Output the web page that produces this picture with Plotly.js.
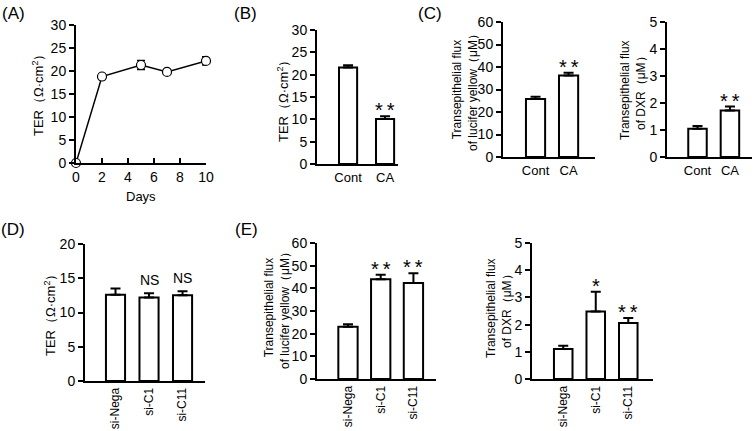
<!DOCTYPE html>
<html><head><meta charset="utf-8">
<script src="https://cdn.plot.ly/plotly-3.0.1.min.js"></script>
<style>html,body{margin:0;padding:0;background:#fff}#plot{width:756px;height:431px}</style>
</head><body><div id="plot"></div>
<script>
// ---- Data ----
const daysA = [0, 2, 5, 7, 10];
const terA = [0, 18.8, 21.3, 19.8, 22.2];
const terAErr = [0, 0.3, 1.0, 0.3, 0.9];

const catsBC = ['Cont', 'CA'];
const terB = [21.6, 10.1];
const terBErr = [0.5, 0.6];
const lyC = [25.8, 36.2];
const lyCErr = [1.0, 1.3];
const dxrC = [1.05, 1.72];
const dxrCErr = [0.1, 0.15];

const catsDE = ['si-Nega', 'si-C1', 'si-C11'];
const terD = [12.6, 12.2, 12.5];
const terDErr = [0.9, 0.6, 0.6];
const lyE = [23.0, 44.0, 42.3];
const lyEErr = [1.2, 2.0, 4.3];
const dxrE = [1.1, 2.48, 2.06];
const dxrEErr = [0.12, 0.73, 0.18];

const sigB = ['', '**'];
const sigC1 = ['', '**'];
const sigC2 = ['', '**'];
const sigD = ['', 'NS', 'NS'];
const sigE1 = ['', '**', '**'];
const sigE2 = ['', '*', '**'];

// ---- Layout helpers ----
const W = 756, H = 431;
const FONT = 'Liberation Sans, Arial, sans-serif';
function xd(a, b) { return [a / W, b / W]; }
function yd(t, b) { return [1 - b / H, 1 - t / H]; }

function yax(dom, max, dt, anchor) {
  return {domain: dom, range: [0, max], dtick: dt, anchor: anchor,
    showline: true, linecolor: '#000', linewidth: 2, ticks: 'outside', ticklen: 5, tickwidth: 2,
    tickcolor: '#000', showgrid: false, zeroline: false, tickfont: {size: 14, family: FONT, color: '#000'},
    fixedrange: true};
}
function xcat(dom, rng, anchor, angle, fs) {
  return {domain: dom, range: rng, anchor: anchor, type: 'category',
    showline: true, linecolor: '#000', linewidth: 2, ticks: '', showgrid: false, zeroline: false,
    tickangle: angle, tickfont: {size: fs, family: FONT, color: '#000'}, fixedrange: true};
}
function barTrace(cats, vals, errs, xa, ya, w) {
  return {type: 'bar', x: cats, y: vals, xaxis: xa, yaxis: ya, width: w,
    marker: {color: '#fff', line: {color: '#000', width: 2}},
    error_y: {type: 'data', symmetric: false, array: errs, arrayminus: errs.map(() => 0),
      color: '#000', thickness: 2, width: 5},
    showlegend: false, hoverinfo: 'skip'};
}

const traces = [
  {type: 'scatter', mode: 'lines+markers', x: daysA, y: terA, xaxis: 'x', yaxis: 'y',
    line: {color: '#000', width: 1.5},
    marker: {symbol: 'circle', size: 9, color: '#fff', line: {color: '#000', width: 1.2}},
    error_y: {type: 'data', array: terAErr, color: '#000', thickness: 1.5, width: 4},
    cliponaxis: false, showlegend: false, hoverinfo: 'skip'},
  barTrace(catsBC, terB, terBErr, 'x2', 'y2', 0.49),
  barTrace(catsBC, lyC, lyCErr, 'x3', 'y3', 0.58),
  barTrace(catsBC, dxrC, dxrCErr, 'x4', 'y4', 0.57),
  barTrace(catsDE, terD, terDErr, 'x5', 'y5', 0.57),
  barTrace(catsDE, lyE, lyEErr, 'x6', 'y6', 0.59),
  barTrace(catsDE, dxrE, dxrEErr, 'x7', 'y7', 0.57)
];

const annotations = [];
function sig(labels, vals, errs, xr, yr) {
  labels.forEach((t, i) => {
    if (!t) return;
    const star = t.indexOf('*') >= 0;
    const txt = star ? t.split('').join('\u2009') : t;
    annotations.push({xref: xr, yref: yr, x: i, y: vals[i] + errs[i], text: txt, showarrow: false,
      yanchor: 'bottom', yshift: star ? -7 : 3,
      font: {size: star ? 20 : 14, family: FONT, color: '#000'}});
  });
}
sig(sigB, terB, terBErr, 'x2', 'y2');
sig(sigC1, lyC, lyCErr, 'x3', 'y3');
sig(sigC2, dxrC, dxrCErr, 'x4', 'y4');
sig(sigD, terD, terDErr, 'x5', 'y5');
sig(sigE1, lyE, lyEErr, 'x6', 'y6');
sig(sigE2, dxrE, dxrEErr, 'x7', 'y7');

function paperText(text, x, y, size, angle) {
  annotations.push({xref: 'paper', yref: 'paper', x: x / W, y: 1 - y / H, text: text, showarrow: false,
    xanchor: 'center', yanchor: 'middle', textangle: angle || 0,
    font: {size: size, family: FONT, color: '#000'}});
}
// panel labels
paperText('(A)', 13, 13, 17);
paperText('(B)', 245, 14, 17);
paperText('(C)', 430, 13, 17);
paperText('(D)', 13, 229, 17);
paperText('(E)', 246, 230, 17);
// axis titles
const terTitle = 'TER（Ω·cm<sup>2</sup>）';
paperText(terTitle, 38, 92, 13, -90);
paperText(terTitle, 283, 98, 13, -90);
paperText('Transepithelial flux<br>of lucifer yellow（μM）', 465, 90, 12, -90);
paperText('Transepithelial flux<br>of DXR（μM）', 633, 90, 12, -90);
paperText(terTitle, 50, 312, 13, -90);
paperText('Transepithelial flux<br>of lucifer yellow（μM）', 277, 308, 12, -90);
paperText('Transepithelial flux<br>of DXR（μM）', 499, 308, 12, -90);
paperText('Days', 141, 196, 13);

const layout = {
  width: W, height: H, margin: {l: 0, r: 0, t: 0, b: 0}, paper_bgcolor: '#fff', plot_bgcolor: 'rgba(0,0,0,0)',
  font: {family: FONT, color: '#000'}, showlegend: false, bargap: 0,
  xaxis: {domain: xd(76, 206), range: [0, 10], dtick: 2, anchor: 'y', showline: true, linecolor: '#000', linewidth: 2,
    ticks: 'inside', ticklen: 5, tickwidth: 2, tickcolor: '#000', showgrid: false, zeroline: false,
    tickfont: {size: 14, family: FONT, color: '#000'}, fixedrange: true},
  yaxis: yax(yd(25, 163), 30, 5, 'x'),
  xaxis2: xcat(xd(317, 398), [-0.84, 1.35], 'y2', 0, 13),
  yaxis2: yax(yd(30, 164), 30, 5, 'x2'),
  xaxis3: xcat(xd(503, 595), [-0.985, 1.8], 'y3', 0, 13),
  yaxis3: yax(yd(22, 157), 60, 10, 'x3'),
  xaxis4: xcat(xd(667, 752), [-0.94, 1.68], 'y4', 0, 13),
  yaxis4: yax(yd(22, 157), 5, 1, 'x4'),
  xaxis5: xcat(xd(85, 205), [-0.91, 2.67], 'y5', -90, 12),
  yaxis5: yax(yd(244, 381), 20, 5, 'x5'),
  xaxis6: xcat(xd(317, 436), [-0.947, 2.69], 'y6', -90, 12),
  yaxis6: yax(yd(243, 379), 60, 10, 'x6'),
  xaxis7: xcat(xd(532, 653), [-0.96, 2.76], 'y7', -90, 12),
  yaxis7: yax(yd(243, 379), 5, 1, 'x7'),
  annotations: annotations
};

Plotly.newPlot('plot', traces, layout, {staticPlot: true, displayModeBar: false});
</script></body></html>
